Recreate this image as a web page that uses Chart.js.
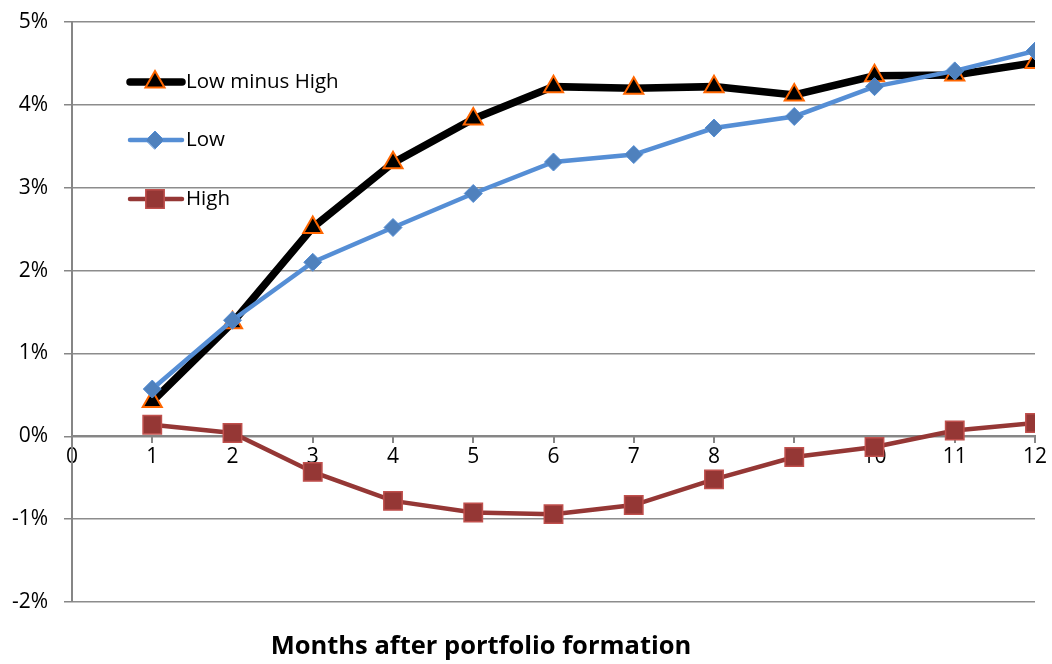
<!DOCTYPE html>
<html>
<head>
  <title>Months after portfolio formation</title>
  <script src="https://cdn.jsdelivr.net/npm/chart.js"></script>
  <style>
    body { margin: 0; background: #fff; }
    .chartframe { position: relative; width: 1052px; height: 664px; }
  </style>
</head>
<body>
  <div class="chartframe">
    <canvas id="myChart" width="1052" height="664"></canvas>
  </div>
<script>
//------------------------------------------------------------------------------
// data
//------------------------------------------------------------------------------
var months = [1, 2, 3, 4, 5, 6, 7, 8, 9, 10, 11, 12];
var lowMinusHigh = [0.42, 1.37, 2.52, 3.30, 3.83, 4.22, 4.20, 4.22, 4.12, 4.35, 4.36, 4.51];
var low = [0.57, 1.40, 2.10, 2.52, 2.93, 3.31, 3.40, 3.72, 3.86, 4.22, 4.41, 4.65];
var high = [0.14, 0.04, -0.43, -0.78, -0.92, -0.94, -0.83, -0.52, -0.25, -0.13, 0.07, 0.16];
var xTitle = 'Months after portfolio formation';

var font = '"Open Sans", "DejaVu Sans", sans-serif';

function toPoints(values) {
  return values.map(function (v, i) { return { x: months[i], y: v }; });
}

//------------------------------------------------------------------------------
// legend + axis title drawn inside the plot
//------------------------------------------------------------------------------
var overlay = {
  id: 'overlay',
  afterDraw: function (chart) {
    var c = chart.ctx;
    var items = [chart.data.datasets[0], chart.data.datasets[1], chart.data.datasets[2]];
    var ys = [82, 140, 199];
    c.save();
    items.forEach(function (ds, i) {
      var y = ys[i];
      c.beginPath();
      c.lineCap = 'round';
      c.strokeStyle = ds.borderColor;
      c.lineWidth = ds.borderWidth;
      c.moveTo(130, y);
      c.lineTo(182, y);
      c.stroke();
      c.fillStyle = ds.pointBackgroundColor;
      c.strokeStyle = ds.pointBorderColor;
      c.lineWidth = ds.pointBorderWidth;
      Chart.helpers.drawPoint(c, {
        pointStyle: ds.pointStyle,
        radius: ds.pointRadius,
        borderWidth: ds.pointBorderWidth,
        rotation: 0
      }, 155, y);
      c.fillStyle = '#000';
      c.font = '20.5px ' + font;
      c.textBaseline = 'middle';
      c.textAlign = 'left';
      c.fillText(ds.label, 186, y);
    });
    c.font = 'bold 25.5px ' + font;
    c.textAlign = 'center';
    c.textBaseline = 'middle';
    c.fillStyle = '#000';
    c.fillText(xTitle, 481, 647);
    c.restore();
  }
};

//------------------------------------------------------------------------------
// chart
//------------------------------------------------------------------------------
var ctx = document.getElementById('myChart').getContext('2d');
var chart = new Chart(ctx, {
  type: 'line',
  data: {
    datasets: [{
      label: 'Low minus High',
      data: toPoints(lowMinusHigh),
      borderColor: '#000000',
      borderWidth: 7.5,
      pointStyle: 'triangle',
      pointRadius: 11,
      pointBackgroundColor: '#000000',
      pointBorderColor: '#ff6600',
      pointBorderWidth: 2,
      order: 2
    }, {
      label: 'Low',
      data: toPoints(low),
      borderColor: '#558ed5',
      borderWidth: 4.5,
      pointStyle: 'rectRot',
      pointRadius: 9,
      pointBackgroundColor: '#4f81bd',
      pointBorderColor: '#558ed5',
      pointBorderWidth: 1,
      order: 1
    }, {
      label: 'High',
      data: toPoints(high),
      borderColor: '#953735',
      borderWidth: 4.5,
      pointStyle: 'rect',
      pointRadius: 13,
      pointBackgroundColor: '#953735',
      pointBorderColor: '#c0504d',
      pointBorderWidth: 1.5,
      order: 3
    }]
  },
  options: {
    responsive: false,
    animation: false,
    events: [],
    layout: { padding: { top: 22, right: 17, bottom: 62, left: 0 } },
    plugins: { legend: { display: false }, tooltip: { enabled: false } },
    scales: {
      x: {
        type: 'linear',
        min: 0,
        max: 12,
        position: { y: 0 },
        border: { color: '#868686', width: 2 },
        grid: { drawOnChartArea: false, drawTicks: true, tickLength: 6, color: '#868686', lineWidth: 2 },
        ticks: { stepSize: 1, color: '#000', font: { family: font, size: 21 }, padding: 2 }
      },
      y: {
        min: -2,
        max: 5,
        afterFit: function (scale) {
          scale.width = 72;
          scale.paddingTop = 0;
          scale.paddingBottom = 0;
        },
        border: { color: '#868686', width: 2 },
        grid: {
          color: '#8c8c8c',
          lineWidth: 1.5,
          borderDash: [1.5, 2.5],
          tickBorderDash: [],
          tickColor: '#868686',
          tickLength: 8
        },
        ticks: {
          stepSize: 1,
          color: '#000',
          padding: 16,
          font: { family: font, size: 21 },
          callback: function (v) { return v + '%'; }
        }
      }
    }
  },
  plugins: [overlay]
});
</script>
</body>
</html>
